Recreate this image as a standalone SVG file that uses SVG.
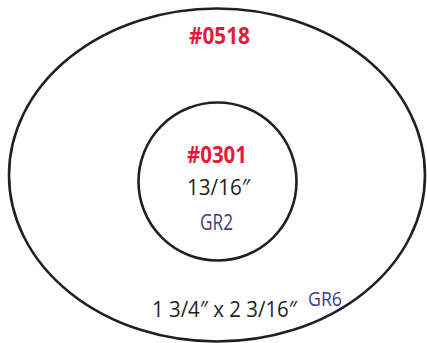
<svg xmlns="http://www.w3.org/2000/svg" width="427" height="343" viewBox="0 0 427 343">
<style>
.ring{fill:none;stroke:#231f20;stroke-width:2.6}
.red{fill:#e8173c;font-family:"Open Sans","Noto Sans",sans-serif;font-weight:bold}
.blk{fill:#231f20;font-family:"Open Sans","Noto Sans",sans-serif}
.blue{fill:#3b3f82;font-family:"Open Sans","Noto Sans",sans-serif}
</style>
<rect width="427" height="343" fill="#ffffff"/>
<g id="outer">
<ellipse class="ring" cx="217" cy="175" rx="208" ry="166.5"/>
<text class="red" x="219.5" y="44" font-size="22.5" text-anchor="middle" textLength="61" lengthAdjust="spacingAndGlyphs">#0518</text>
<text class="blk" x="224.5" y="317" font-size="21.5" text-anchor="middle" textLength="145" lengthAdjust="spacingAndGlyphs">1 3/4″ x 2 3/16″</text>
<text class="blue" x="325" y="306" font-size="20.5" text-anchor="middle" textLength="34" lengthAdjust="spacingAndGlyphs">GR6</text>
</g>
<g id="inner">
<circle class="ring" cx="217.5" cy="181.5" r="79"/>
<text class="red" x="217" y="163" font-size="23.5" text-anchor="middle" textLength="60" lengthAdjust="spacingAndGlyphs">#0301</text>
<text class="blk" x="218.5" y="195" font-size="21.5" text-anchor="middle" textLength="63" lengthAdjust="spacingAndGlyphs">13/16″</text>
<text class="blue" x="216.5" y="230" font-size="21.5" text-anchor="middle" textLength="33" lengthAdjust="spacingAndGlyphs">GR2</text>
</g>
<g id="connectors"></g>
</svg>
